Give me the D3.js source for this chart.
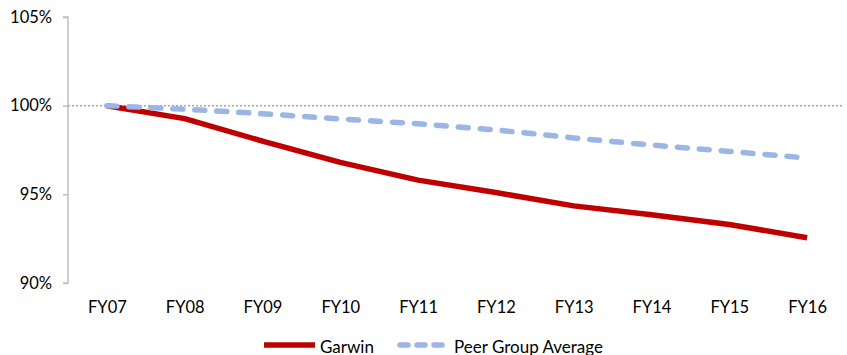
<!DOCTYPE html>
<meta charset="utf-8">
<style>
body { margin: 0; background: #fff; }
text { font-family: Lato, "Open Sans", sans-serif; fill: #000; }
.tick text { font-size: 16.5px; }
.legend text { font-size: 17px; }
</style>
<svg width="847" height="355"></svg>
<script src="https://cdn.jsdelivr.net/npm/d3@7"></script>
<script>

var years = ["FY07", "FY08", "FY09", "FY10", "FY11", "FY12", "FY13", "FY14", "FY15", "FY16"];
var garwin = [100, 99.27, 98.0, 96.8, 95.8, 95.1, 94.35, 93.85, 93.3, 92.55];
var peer = [100, 99.8, 99.55, 99.25, 98.98, 98.63, 98.18, 97.78, 97.42, 97.05];
var yTicks = [90, 95, 100, 105];

var svg = d3.select("svg"),
    margin = {top: 17, right: 1, bottom: 72, left: 68},
    width = +svg.attr("width") - margin.left - margin.right,
    height = +svg.attr("height") - margin.top - margin.bottom,
    g = svg.append("g").attr("transform", "translate(" + margin.left + "," + margin.top + ")");

var x = d3.scalePoint()
    .domain(years)
    .range([0, width])
    .padding(0.5);

var y = d3.scaleLinear()
    .domain([90, 105])
    .range([height, 0]);

// y axis
var yAxis = g.append("g")
    .attr("class", "axis")
    .call(d3.axisLeft(y).tickValues(yTicks).tickSize(5).tickPadding(11)
      .tickFormat(function(d) { return d + "%"; }));
yAxis.select(".domain").attr("stroke", "#bfbfbf").attr("stroke-width", 1.5)
    .attr("d", "M-5," + height + "H0V0H-5");
yAxis.selectAll(".tick line").attr("stroke", "#bfbfbf").attr("stroke-width", 1.5);

// x axis (labels only)
var xAxis = g.append("g")
    .attr("class", "axis")
    .attr("transform", "translate(0," + height + ")")
    .call(d3.axisBottom(x).tickSize(0).tickPadding(18));
xAxis.select(".domain").remove();

// 100% reference
g.append("line")
    .attr("x1", 0)
    .attr("x2", width - 2)
    .attr("y1", y(100))
    .attr("y2", y(100))
    .attr("stroke", "#a6a6a6")
    .attr("stroke-width", 1.5)
    .attr("stroke-dasharray", "2,2");

var line = d3.line()
    .x(function(d, i) { return x(years[i]); })
    .y(function(d) { return y(d); });

g.append("path")
    .datum(garwin)
    .attr("fill", "none")
    .attr("stroke", "#c00000")
    .attr("stroke-width", 5.5)
    .attr("stroke-linejoin", "round")
    .attr("d", line);

g.append("path")
    .datum(peer)
    .attr("fill", "none")
    .attr("stroke", "#9bb5e5")
    .attr("stroke-width", 5.5)
    .attr("stroke-linecap", "round")
    .attr("stroke-dasharray", "10,12")
    .attr("d", line);

// legend
var legend = svg.append("g").attr("class", "legend");

legend.append("line")
    .attr("x1", 264).attr("x2", 315).attr("y1", 345).attr("y2", 345)
    .attr("stroke", "#c00000").attr("stroke-width", 5.5);
legend.append("text")
    .attr("x", 320).attr("y", 352.5)
    .text("Garwin");

legend.append("line")
    .attr("x1", 400).attr("x2", 447).attr("y1", 345).attr("y2", 345)
    .attr("stroke", "#9bb5e5").attr("stroke-width", 5.5)
    .attr("stroke-linecap", "round")
    .attr("stroke-dasharray", "8,9");
legend.append("text")
    .attr("x", 454).attr("y", 352.5)
    .text("Peer Group Average");

</script>
